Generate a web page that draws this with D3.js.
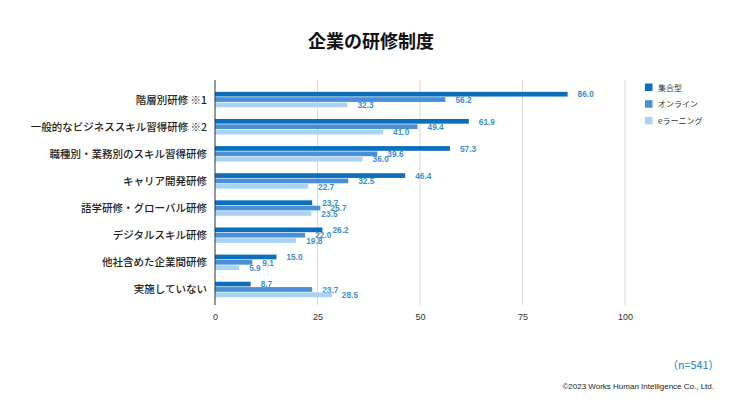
<!DOCTYPE html>
<html><head><meta charset="utf-8">
<script src="https://cdn.jsdelivr.net/npm/d3@7"></script>
<style>
body{margin:0;background:#fff;}
svg{display:block;font-family:"Noto Sans CJK JP","Noto Sans",sans-serif;}
</style></head>
<body><svg id="c" width="740" height="416"></svg>
<script>
const categories = ["階層別研修 ※1","一般的なビジネススキル習得研修 ※2","職種別・業務別のスキル習得研修","キャリア開発研修","語学研修・グローバル研修","デジタルスキル研修","他社含めた企業間研修","実施していない"];
const seriesNames = ["集合型","オンライン","eラーニング"];
const shugo = [86.0,61.9,57.3,46.4,23.7,26.2,15.0,8.7];
const online = [56.2,49.4,39.6,32.5,25.7,22.0,9.1,23.7];
const elearning = [32.3,41.0,36.0,22.7,23.5,19.8,5.9,28.5];
const xTicks = [0,25,50,75,100];
const colors = ["#0b6fbd","#4a90d9","#a9d3f5"];

const series = [shugo, online, elearning];
const svg = d3.select("#c");

svg.append("text").attr("x",371).attr("y",48).attr("text-anchor","middle")
  .attr("font-size",18).attr("font-weight","bold").attr("fill","#111").text("企業の研修制度");

const x = d3.scaleLinear().domain([0,100]).range([215,625]);
const y = d3.scaleBand().domain(categories).range([86,303]).paddingInner(0.43).paddingOuter(0.215);
const ySub = d3.scaleBand().domain(seriesNames).range([0,y.bandwidth()]).paddingInner(0.12);

// gridlines
svg.append("g").selectAll("line").data(xTicks.slice(1)).join("line")
  .attr("x1",d=>x(d)).attr("x2",d=>x(d)).attr("y1",80).attr("y2",305)
  .attr("stroke","#d9d9d9").attr("stroke-width",1);

// bars
seriesNames.forEach((s,si)=>{
  const g = svg.append("g");
  g.selectAll("rect").data(categories).join("rect")
    .attr("x",x(0)).attr("y",(c)=>y(c)+ySub(s))
    .attr("width",(c,i)=>x(series[si][i])-x(0)).attr("height",ySub.bandwidth())
    .attr("fill",colors[si]);
  g.selectAll("text").data(categories).join("text")
    .attr("x",(c,i)=>x(series[si][i])+10)
    .attr("y",(c)=>y(c)+ySub(s)+ySub.bandwidth()/2+3.3)
    .attr("font-size",8.3).attr("font-weight","bold").attr("fill","#3b8fd1")
    .attr("font-family","Liberation Sans, Arial, sans-serif")
    .text((c,i)=>series[si][i].toFixed(1));
});

// y axis line
svg.append("line").attr("x1",x(0)).attr("x2",x(0)).attr("y1",80).attr("y2",305)
  .attr("stroke","#333").attr("stroke-width",1);

// category labels
svg.append("g").selectAll("text").data(categories).join("text")
  .attr("x",207).attr("y",c=>y(c)+y.bandwidth()/2+4)
  .attr("text-anchor","end").attr("font-size",10.5).attr("font-weight",500).attr("fill","#222").text(c=>c);

// x axis
const xa = svg.append("g").attr("transform","translate(0,305)")
  .call(d3.axisBottom(x).tickValues(xTicks).tickSize(0).tickPadding(9));
xa.select(".domain").remove();
xa.selectAll("text").attr("font-size",9).attr("fill","#333")
  .attr("font-family","Liberation Sans, Arial, sans-serif");

// legend
const lg = svg.append("g");
seriesNames.forEach((s,i)=>{
  lg.append("rect").attr("x",645).attr("y",83.5+i*16.7).attr("width",7.5).attr("height",7.5).attr("fill",colors[i]);
  lg.append("text").attr("x",658).attr("y",90.5+i*16.7).attr("font-size",8).attr("fill","#333").text(s);
});

svg.append("text").attr("x",719).attr("y",369).attr("text-anchor","end")
  .attr("font-size",10.5).attr("font-weight",500).attr("fill","#3b8fd1").text("（n=541）");
svg.append("text").attr("x",714).attr("y",389).attr("text-anchor","end")
  .attr("font-size",8).attr("fill","#222").attr("font-family","Liberation Sans, Arial, sans-serif")
  .text("©2023 Works Human Intelligence Co., Ltd.");
</script></body></html>
